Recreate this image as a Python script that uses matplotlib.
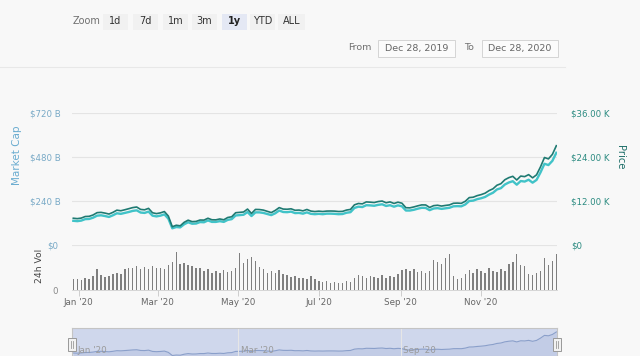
import matplotlib.pyplot as plt
import matplotlib.dates as mdates
from matplotlib.patches import Rectangle
import pandas as pd

# 3-day samples, Dec 28 2019 .. Dec 28 2020
dates = pd.date_range("2019-12-28", "2020-12-28", freq="3D")

# BTC price, USD
price = [
    7300, 7190, 7340, 7770, 7820, 8190, 8820, 8900, 8700, 8440, 8900, 9500,
    9340, 9610, 9900, 10200, 10360, 9700, 9600, 9990, 8790, 8560,
    8760, 9120, 7900, 4970, 5390, 5230, 6190, 6770, 6370, 6430,
    6810, 6790, 7300, 6880, 6860, 7100, 6880, 7500, 7700, 8800,
    8900, 9000, 9800, 8600, 9700, 9670, 9520, 9180, 8840, 9430,
    10200, 9800, 9750, 9870, 9470, 9530, 9310, 9690, 9250, 9120,
    9230, 9130, 9250, 9270, 9240, 9130, 9170, 9530, 9700, 10950, 11320,
    11220, 11750, 11680, 11580, 11850, 11990, 11520, 11750, 11330, 11680,
    11400, 10170, 10130, 10380, 10680, 10940, 10920, 10240, 10730, 10840,
    10620, 10790, 10930, 11380, 11430, 11360, 11920, 12930, 13030, 13460,
    13740, 14130, 14830, 15330, 16300, 16720, 17800, 18370, 18730, 17730,
    18800, 18650, 19190, 18320, 19140, 21310, 23860, 23480, 24710, 27080,
]

# market cap, billions USD
market_cap = [
    132, 130, 133, 141, 142, 149, 160, 162, 158, 153, 162, 173,
    170, 175, 180, 186, 189, 177, 175, 182, 160, 156,
    160, 167, 144, 91, 98, 96, 113, 124, 116, 117,
    125, 124, 134, 126, 126, 130, 126, 137, 141, 161,
    163, 165, 180, 158, 178, 178, 175, 169, 163, 173,
    188, 180, 179, 182, 174, 175, 171, 178, 170, 168,
    170, 168, 171, 171, 170, 168, 169, 176, 179, 202, 209,
    207, 217, 216, 214, 219, 222, 213, 217, 209, 216,
    211, 188, 188, 192, 198, 203, 202, 190, 199, 201,
    197, 200, 203, 211, 212, 211, 221, 240, 242, 250,
    255, 262, 275, 285, 303, 310, 330, 341, 348, 329,
    349, 346, 356, 340, 355, 396, 443, 436, 459, 503,
]

# 24h volume, billions USD
volume = [
    17, 18, 16, 19, 18, 22, 33, 24, 21, 23, 25, 27,
    26, 34, 36, 35, 38, 34, 37, 33, 38, 35,
    36, 34, 40, 45, 61, 42, 44, 40, 38, 36,
    35, 30, 33, 28, 31, 27, 32, 29, 30, 36,
    59, 44, 50, 53, 46, 37, 34, 28, 30, 27,
    32, 26, 24, 21, 23, 19, 20, 18, 22, 17,
    15, 13, 14, 12, 13, 11, 12, 14, 13, 19, 24,
    22, 20, 23, 21, 19, 24, 20, 22, 21, 26,
    32, 34, 30, 33, 29, 31, 28, 30, 48, 45,
    42, 52, 57, 22, 18, 20, 25, 32, 28, 33,
    30, 27, 35, 31, 29, 34, 30, 41, 45, 58,
    40, 38, 26, 24, 28, 30, 52, 40, 46, 58,
]

cap_ticks = [240, 480, 720]
cap_labels = ["$240 B", "$480 B", "$720 B"]
price_ticks = [0, 12000, 24000, 36000]
price_labels = ["$0", "$12.00 K", "$24.00 K", "$36.00 K"]
zoom_buttons = ["1d", "7d", "1m", "3m", "1y", "YTD", "ALL"]

BG = "#f8f8f8"
GRID = "#e4e4e4"
DARK = "#1f7a72"
LIGHT = "#41c3c8"
CAP_C = "#78a9c6"
PRICE_C = "#2a8a80"

W, H = 640, 356


def box(x0, y0, x1, y1):
    return [x0 / W, 1 - y1 / H, (x1 - x0) / W, (y1 - y0) / H]


def ftext(x, y, s, **kw):
    fig.text(x / W, 1 - y / H, s, **kw)


def frect(x0, y0, x1, y1, fc, ec="none", lw=0.8):
    fig.add_artist(Rectangle((x0 / W, 1 - y1 / H), (x1 - x0) / W, (y1 - y0) / H,
                             transform=fig.transFigure, fc=fc, ec=ec, lw=lw))


fig = plt.figure(figsize=(6.4, 3.56), dpi=100, facecolor=BG)

xmin = pd.Timestamp("2019-12-27")
xmax = pd.Timestamp("2020-12-28 12:00")

# --- main panel
ax = fig.add_axes(box(72, 113, 557, 245))
ax.set_facecolor("none")
ax.plot(dates, market_cap, color=LIGHT, lw=1.7)
ax.set_ylim(0, 720)
ax.set_xlim(xmin, xmax)
ax.set_yticks(cap_ticks, cap_labels)
ax.tick_params(axis="y", length=0, pad=8, labelsize=6.2, labelcolor=CAP_C)
ax.tick_params(axis="x", bottom=False, labelbottom=False)
for s in ax.spines.values():
    s.set_visible(False)
for t in cap_ticks:
    ax.axhline(t, color=GRID, lw=0.8, zorder=0)

ax2 = ax.twinx()
ax2.plot(dates, price, color=DARK, lw=1.2)
ax2.set_ylim(0, 36000)
ax2.set_xlim(xmin, xmax)
ax2.set_yticks(price_ticks, price_labels)
ax2.tick_params(axis="y", length=0, pad=10, labelsize=6.2, labelcolor=PRICE_C)
for s in ax2.spines.values():
    s.set_visible(False)

ftext(17, 155, "Market Cap", rotation=90, ha="center", va="center",
      fontsize=7.5, color="#6aacd0")
ftext(620, 157, "Price", rotation=270, ha="center", va="center",
      fontsize=7.2, color="#1f6f69")

# --- volume panel
axv = fig.add_axes(box(72, 245, 557, 290))
axv.set_facecolor("none")
axv.bar(dates, volume, width=1.1, color="#7f7f7f", edgecolor="none")
axv.set_xlim(xmin, xmax)
axv.set_ylim(0, 72)
axv.axhline(72, color=GRID, lw=0.8, zorder=0)
axv.set_yticks([0, 72], ["0", "$0"])
axv.tick_params(axis="y", length=0, pad=10, labelsize=6.2)
ylab = axv.get_yticklabels()
ylab[0].set_color("#888888")
ylab[1].set_color(CAP_C)
axv.xaxis.set_major_locator(mdates.MonthLocator(bymonth=[1, 3, 5, 7, 9, 11]))
axv.xaxis.set_major_formatter(mdates.DateFormatter("%b '%y"))
axv.tick_params(axis="x", length=4, width=0.6, color="#c8c8c8",
                labelsize=6.3, labelcolor="#666666", pad=2)
for k, s in axv.spines.items():
    s.set_visible(k == "bottom")
axv.spines["bottom"].set_color("#d0d0d0")
axv.spines["bottom"].set_linewidth(0.6)
ftext(40, 266, "24h Vol", rotation=90, ha="center", va="center",
      fontsize=6.6, color="#444444")

# --- navigator
axn = fig.add_axes(box(72, 328, 557, 356))
axn.set_facecolor("#cfd7ec")
axn.fill_between(dates, price, 0, color="#c2cce6", lw=0)
axn.plot(dates, price, color="#8a9fca", lw=0.8)
axn.set_xlim(xmin, xmax)
axn.set_ylim(4500, 30800)
axn.set_xticks([])
axn.set_yticks([])
for s in axn.spines.values():
    s.set_color("#c4c4c4")
    s.set_linewidth(0.8)
nav_marks = [(xmin, "Jan '20"), (pd.Timestamp("2020-05-01"), "Mar '20"),
             (pd.Timestamp("2020-09-01"), "Sep '20")]
for d, lab in nav_marks:
    axn.axvline(d, color="#e6e6e6", lw=0.8)
    axn.annotate(lab, (mdates.date2num(d), 0), xycoords=("data", "axes fraction"),
                 xytext=(4 if d == xmin else 2, 0.5), textcoords="offset points",
                 ha="left", va="bottom", fontsize=6.3, color="#9a9a9a",
                 annotation_clip=False)

for hx in (72, 557):
    frect(hx - 4, 338, hx + 4, 351, "#f2f2f2", "#999999", 0.7)
    for dx in (-1, 1):
        fig.add_artist(plt.Line2D([(hx + dx) / W, (hx + dx) / W],
                                  [1 - 341 / H, 1 - 348 / H],
                                  transform=fig.transFigure, color="#999999", lw=0.6))

# --- range selector
ftext(87, 21, "Zoom", ha="center", va="center", fontsize=7, color="#707070")
btn_x = [(103, 128), (133, 158), (163, 188), (192, 217), (222, 247), (250, 275), (278, 305)]
for (x0, x1), lab in zip(btn_x, zoom_buttons):
    sel = lab == "1y"
    frect(x0, 14, x1, 30, "#e4e8f4" if sel else "#f1f1f1")
    ftext((x0 + x1) / 2, 21.5, lab, ha="center", va="center", fontsize=7,
          color="#222222" if sel else "#333333", weight="bold" if sel else "normal")

ftext(360, 47, "From", ha="center", va="center", fontsize=6.8, color="#707070")
frect(378, 40, 455, 57, "#fbfbfb", "#d4d4d4", 0.7)
ftext(416.5, 48, "Dec 28, 2019", ha="center", va="center", fontsize=6.8, color="#666666")
ftext(469, 47, "To", ha="center", va="center", fontsize=6.8, color="#707070")
frect(482, 40, 558, 57, "#fbfbfb", "#d4d4d4", 0.7)
ftext(520, 48, "Dec 28, 2020", ha="center", va="center", fontsize=6.8, color="#666666")

fig.add_artist(plt.Line2D([0, 565 / W], [1 - 67 / H, 1 - 67 / H],
                          transform=fig.transFigure, color="#e8e8e8", lw=0.8))

fig.savefig("out.png", dpi=100, facecolor=BG)
